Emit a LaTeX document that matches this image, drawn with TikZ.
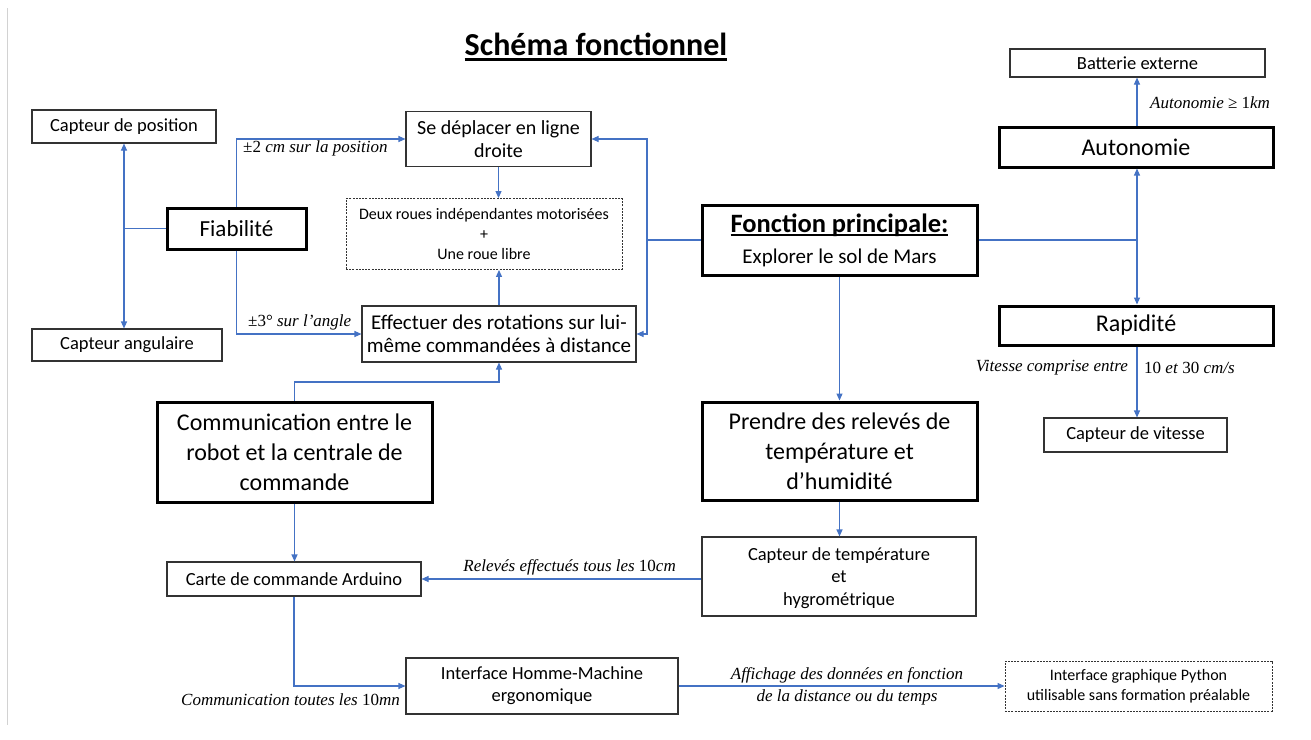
\documentclass[tikz,border=0pt]{standalone}
\usepackage{fontspec}
\setmainfont{Carlito}
\newfontfamily\eqfont{Liberation Serif}
\usetikzlibrary{arrows.meta}

\definecolor{linkblue}{HTML}{4472C4}
\definecolor{framegray}{HTML}{333333}

% font size / leading in one go
\newcommand{\fs}[2]{\fontsize{#1}{#2}\selectfont}
% underline scaled to the current font
\newcommand{\ulined}[1]{\setbox0=\hbox{#1}\rlap{\rule[-0.15em]{\wd0}{0.075em}}\box0}
% upright digits inside italic labels
\newcommand{\up}[1]{\textup{#1}}

\tikzset{
  box/.style={draw=framegray, line width=1.1pt, align=center, inner sep=0pt,
              font=\fs{18.5}{22.5}},
  keybox/.style={draw=black, line width=3pt, align=center, inner sep=0pt,
              font=\fs{24}{30}},
  optbox/.style={draw=framegray, line width=0.9pt, dash pattern=on 2pt off 1.2pt,
              align=center, inner sep=0pt, font=\fs{16}{20}},
  link/.style={draw=linkblue, line width=1.1pt},
  arr/.style={link, -{Triangle[length=7pt,width=6pt]}},
  note/.style={font=\eqfont\itshape\fs{17}{22}, inner sep=0pt},
}

\begin{document}
\begin{tikzpicture}[x=1pt,y=-1pt]
\useasboundingbox (0,0) rectangle (1311,739);
\fill[white] (0,0) rectangle (1311,739);
\draw[gray!35, line width=1pt] (7,8) -- (7,725);

% title
\node[inner sep=0pt, font=\fs{32}{38}\bfseries] (title) at (596,47) {\ulined{Schéma fonctionnel}};

% left column
\node[box, minimum width=184, minimum height=33] (cpos) at (124,126.5) {Capteur de position};
\node[box, minimum width=190, minimum height=32] (cang) at (127,345) {Capteur angulaire};
\node[keybox, font=\fs{23}{28}, minimum width=139, minimum height=41] (fiab) at (236.5,228.5) {Fiabilité};

% motion block
\node[box, font=\fs{20}{23}, minimum width=185, minimum height=55] (depl) at (498.5,139) {Se déplacer en ligne\\droite};
\node[optbox, minimum width=276, minimum height=71] (roues) at (484,234) {Deux roues indépendantes motorisées\\+\\Une roue libre};
\node[box, font=\fs{21}{23}, minimum width=274, minimum height=56] (eff) at (499,334) {Effectuer des rotations sur lui-\\même commandées à distance};

% main function
\node[keybox, font=\fs{21}{30}, minimum width=275, minimum height=70] (fp) at (839.5,240)
  {{\fs{26.5}{30}\bfseries\ulined{Fonction principale:}}\\[1pt]Explorer le sol de Mars};

% right column
\node[box, minimum width=255, minimum height=28] (batt) at (1137.5,63) {Batterie externe};
\node[keybox, font=\fs{24}{28}, minimum width=274, minimum height=40] (auto) at (1136,147) {Autonomie};
\node[keybox, font=\fs{24}{28}, minimum width=274, minimum height=39] (rapid) at (1136,325.5) {Rapidité};
\node[box, minimum width=183, minimum height=34] (vit) at (1135.5,435) {Capteur de vitesse};

% lower blocks
\node[keybox, minimum width=275, minimum height=100] (comm) at (294.5,452) {Communication entre le\\robot et la centrale de\\commande};
\node[keybox, minimum width=275, minimum height=98] (prendre) at (839.5,451) {Prendre des relevés de\\température et\\d’humidité};
\node[box, minimum width=274, minimum height=79] (ctemp) at (839,576.5) {\rule{0pt}{16pt}Capteur de température\\et\\hygrométrique};
\node[box, minimum width=254, minimum height=34] (carte) at (294,579) {Carte de commande Arduino};
\node[box, font=\fs{18.5}{22}, minimum width=272, minimum height=56] (ihm) at (542,686) {Interface Homme-Machine\\ergonomique};
\node[optbox, minimum width=267, minimum height=50] (py) at (1138.5,686) {Interface graphique Python\\utilisable sans formation préalable};

% labels on the links
\node[note, anchor=west] (l2cm) at (243,148) {\up{±2} cm sur la position};
\node[note, anchor=west] (l3deg) at (248,322) {\up{±3°} sur l’angle};
\node[note, anchor=west] (lauto) at (1150,103) {Autonomie \up{≥ 1}km};
\node[note, anchor=east] (lvit1) at (1128,368) {Vitesse comprise entre};
\node[note, anchor=west] (lvit2) at (1144,368) {\up{10} et \up{30} cm/s};
\node[note, anchor=east] (lrel) at (676,567) {Relevés ef{}fectués tous les \up{10}cm};
\node[note, anchor=east] (lcom) at (400,700) {Communication toutes les \up{10}mn};
\node[note, align=center] (laff) at (847,686) {Af{}f{}ichage des données en f{}onction\\de la distance ou du temps};

% junction points
\coordinate (jL) at (124,228.5);
\coordinate (jM) at (647,240);
\coordinate (jR) at (1137,240);
\coordinate (jC) at (294.5,382);

% reliability links
\draw[link] (fiab.west) -- (jL);
\draw[arr] (jL) -- (cpos.south);
\draw[arr] (jL) -- (jL |- cang.north);
\draw[arr] (fiab.north) |- (depl.west);
\draw[arr] (fiab.south) |- (eff.west);

% motion links
\draw[arr] (depl.south) -- (depl.south |- roues.north);
\draw[arr] (eff.north) -- (eff.north |- roues.south);
\draw[link] (fp.west) -- (jM);
\draw[arr] (jM) |- (depl.east);
\draw[arr] (jM) |- (eff.east);

% right side links
\draw[link] (fp.east) -- (jR);
\draw[arr] (jR) -- (jR |- auto.south);
\draw[arr] (jR) -- (jR |- rapid.north);
\draw[arr] (jR |- auto.north) -- (jR |- batt.south);
\draw[arr] (jR |- rapid.south) -- (jR |- vit.north);

% measurement chain
\draw[arr] (fp.south) -- (prendre.north);
\draw[arr] (prendre.south) -- (prendre.south |- ctemp.north);
\draw[arr] (ctemp.west |- carte.east) -- (carte.east);

% communication chain
\draw[arr] (comm.north) -- (jC) -| (eff.south);
\draw[arr] (comm.south) -- (comm.south |- carte.north);
\draw[arr] (carte.south) |- (ihm.west);
\draw[arr] (ihm.east) -- (py.west);
\end{tikzpicture}
\end{document}
